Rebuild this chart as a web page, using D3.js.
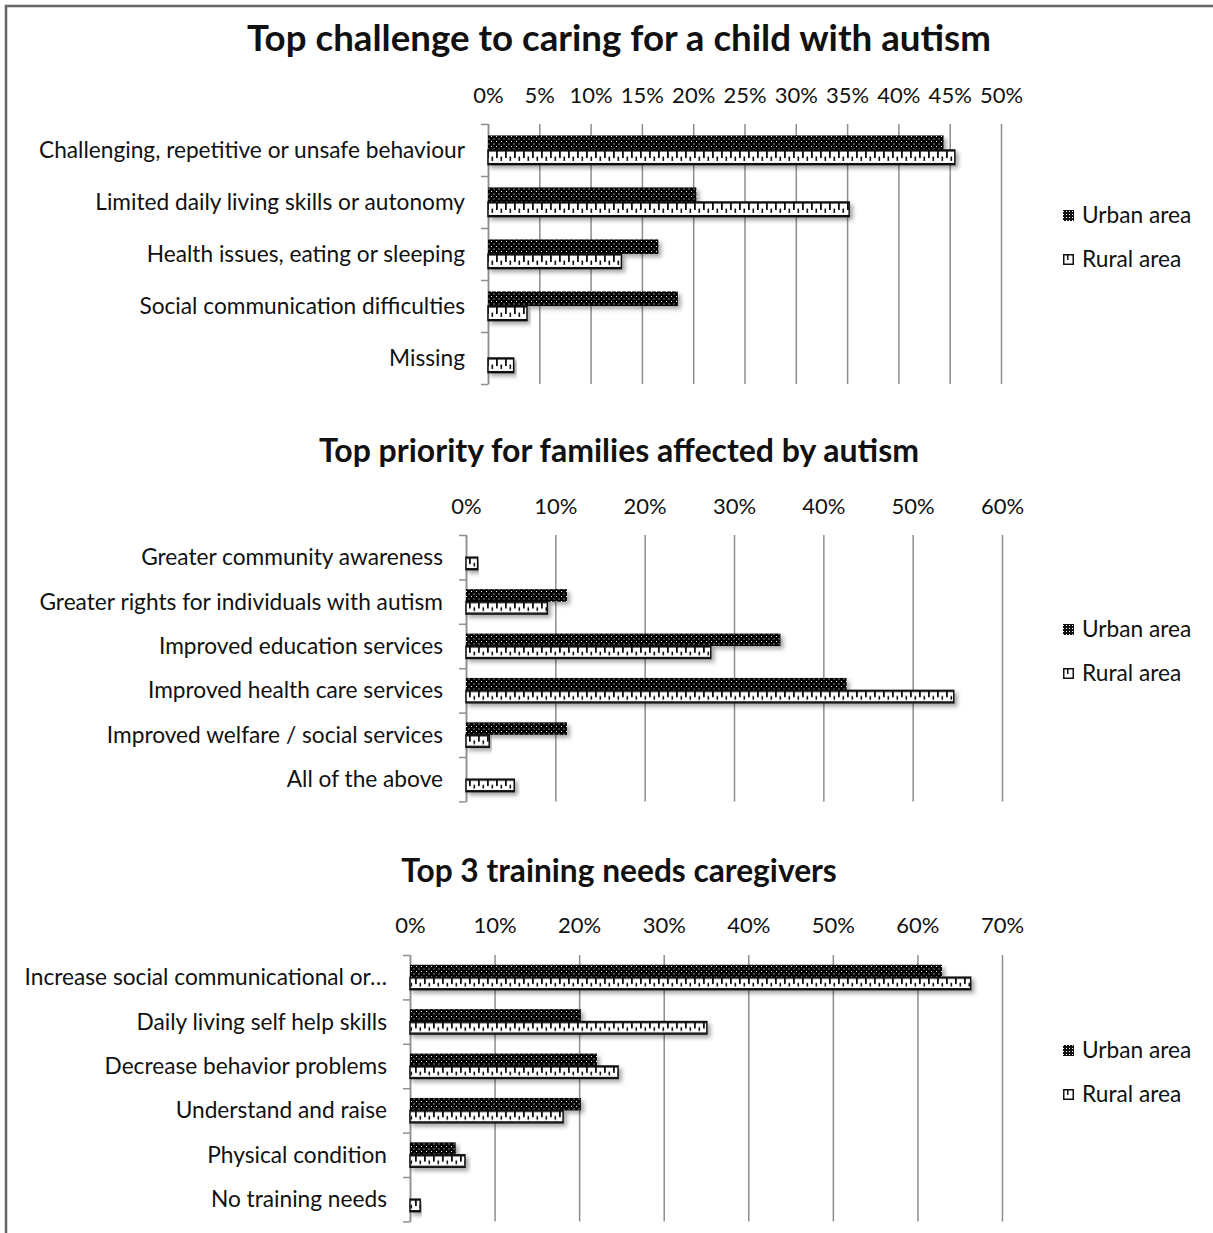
<!DOCTYPE html>
<html>
<head>
<meta charset="UTF-8">
<script src="https://d3js.org/d3.v7.min.js"></script>
<style>
  body { margin: 0; background: #fff; }
  text { font-family: Lato, "Open Sans", sans-serif; fill: #111; }
  .title { font-weight: bold; }
  .grid line { stroke: #8e8e8e; stroke-width: 1.5; }
  .grid text { font-size: 22px; }
  .yaxis line, .yaxis path { stroke: #8e8e8e; stroke-width: 1.5; }
</style>
</head>
<body>
<svg width="1213" height="1233"></svg>
<script>
// chart 1
var challengeCats = ["Challenging, repetitive or unsafe behaviour", "Limited daily living skills or autonomy",
  "Health issues, eating or sleeping", "Social communication difficulties", "Missing"];
var challengeUrban = [44.4, 20.3, 16.6, 18.5, 0];
var challengeRural = [45.5, 35.2, 13.0, 3.8, 2.5];
var challengeTicks = [0, 5, 10, 15, 20, 25, 30, 35, 40, 45, 50];

// chart 2
var priorityCats = ["Greater community awareness", "Greater rights for individuals with autism",
  "Improved education services", "Improved health care services", "Improved welfare / social services",
  "All of the above"];
var priorityUrban = [0, 11.3, 35.2, 42.6, 11.3, 0];
var priorityRural = [1.3, 9.1, 27.4, 54.6, 2.6, 5.4];
var priorityTicks = [0, 10, 20, 30, 40, 50, 60];

// chart 3
var trainingCats = ["Increase social communicational or…", "Daily living self help skills",
  "Decrease behavior problems", "Understand and raise", "Physical condition", "No training needs"];
var trainingUrban = [62.9, 20.2, 22.1, 20.2, 5.4, 0];
var trainingRural = [66.3, 35.1, 24.6, 18.1, 6.5, 1.2];
var trainingTicks = [0, 10, 20, 30, 40, 50, 60, 70];

var seriesNames = ["Urban area", "Rural area"];

var svg = d3.select("svg");

// frame
svg.append("path").attr("d", "M6,1233V6H1213").attr("fill", "none")
  .attr("stroke", "#666").attr("stroke-width", 2.5);

var defs = svg.append("defs");
var shadow = defs.append("filter").attr("id", "shadow")
  .attr("x", "-5%").attr("y", "-30%").attr("width", "115%").attr("height", "190%");
shadow.append("feDropShadow").attr("dx", 3).attr("dy", 3).attr("stdDeviation", 2)
  .attr("flood-color", "#000").attr("flood-opacity", 0.35);

// dark dotted pattern for urban
var dots = defs.append("pattern").attr("id", "urban").attr("patternUnits", "userSpaceOnUse")
  .attr("width", 5).attr("height", 5);
dots.append("rect").attr("width", 5).attr("height", 5).attr("fill", "#000");
dots.append("rect").attr("x", 1).attr("y", 1).attr("width", 1).attr("height", 1).attr("fill", "#fff");
dots.append("rect").attr("x", 3.5).attr("y", 3.5).attr("width", 1).attr("height", 1).attr("fill", "#fff");

// legend swatch pattern (small checker)
var chk = defs.append("pattern").attr("id", "urbanSmall").attr("patternUnits", "userSpaceOnUse")
  .attr("width", 3).attr("height", 3);
chk.append("rect").attr("width", 3).attr("height", 3).attr("fill", "#111");
chk.append("rect").attr("x", 1).attr("y", 1).attr("width", 1).attr("height", 1).attr("fill", "#fff");

function drawChart(id, cats, urban, rural, ticks, o) {
  var g = svg.append("g");
  var n = cats.length;
  var x = d3.scaleLinear().domain([0, d3.max(ticks)]).range([o.left, o.right]);
  var y = d3.scaleBand().domain(cats).range([o.top, o.top + o.step * n]);
  var inner = d3.scaleBand().domain(seriesNames).range([o.step * o.pad, o.step * (1 - o.pad)]);
  var bh = inner.bandwidth();
  var ry = o.top + inner("Rural area");

  // ruler pattern for rural, aligned to each bar
  var rp = defs.append("pattern").attr("id", "rural" + id).attr("patternUnits", "userSpaceOnUse")
    .attr("x", 0).attr("y", ry).attr("width", 9).attr("height", o.step);
  rp.append("rect").attr("width", 9).attr("height", bh).attr("fill", "#fff");
  rp.append("rect").attr("x", 0).attr("y", 0).attr("width", 9).attr("height", 1.6).attr("fill", "#111");
  rp.append("rect").attr("x", 0).attr("y", bh - 1.6).attr("width", 9).attr("height", 1.6).attr("fill", "#111");
  rp.append("rect").attr("x", 1).attr("y", 0).attr("width", 1.8).attr("height", bh * 0.55).attr("fill", "#111");
  rp.append("rect").attr("x", 5.5).attr("y", bh * 0.45).attr("width", 1.6).attr("height", bh * 0.3).attr("fill", "#111");

  g.append("text").attr("class", "title").attr("x", 619).attr("y", o.titleY)
    .attr("text-anchor", "middle").attr("font-size", o.titleSize).text(o.title);

  var grid = g.append("g").attr("class", "grid")
    .attr("transform", "translate(0," + o.top + ")")
    .call(d3.axisTop(x).tickValues(ticks).tickFormat(function(d) { return d + "%"; })
      .tickSize(-o.step * n).tickPadding(o.labelGap));
  grid.select(".domain").remove();
  grid.selectAll("text").attr("fill", "#111");

  var yi = d3.scaleLinear().domain([0, n]).range([o.top, o.top + o.step * n]);
  g.append("g").attr("class", "yaxis")
    .attr("transform", "translate(" + o.left + ",0)")
    .call(d3.axisLeft(yi).tickValues(d3.range(n + 1)).tickSize(7).tickSizeOuter(0).tickFormat(""));

  g.selectAll(".cat").data(cats).enter().append("text")
    .attr("x", o.left - 23).attr("y", function(d) { return y(d) + y.bandwidth() / 2; })
    .attr("dy", "0.35em").attr("text-anchor", "end").attr("font-size", 22.7)
    .text(function(d) { return d; });

  var rows = cats.map(function(c, i) { return { cat: c, u: urban[i], r: rural[i] }; });

  g.selectAll(".ubar").data(rows.filter(function(d) { return d.u > 0; })).enter().append("rect")
    .attr("x", x(0)).attr("y", function(d) { return y(d.cat) + inner("Urban area"); })
    .attr("width", function(d) { return x(d.u) - x(0); }).attr("height", bh)
    .attr("fill", "url(#urban)").attr("filter", "url(#shadow)");

  g.selectAll(".rbar").data(rows.filter(function(d) { return d.r > 0; })).enter().append("rect")
    .attr("x", x(0)).attr("y", function(d) { return y(d.cat) + inner("Rural area"); })
    .attr("width", function(d) { return x(d.r) - x(0); }).attr("height", bh)
    .attr("fill", "url(#rural" + id + ")").attr("stroke", "#111").attr("stroke-width", 1.5)
    .attr("filter", "url(#shadow)");

  // legend
  var lg = g.append("g");
  seriesNames.forEach(function(s, i) {
    var ly = o.legendY + i * 44;
    if (i === 0) {
      lg.append("rect").attr("x", o.legendX).attr("y", ly - 5).attr("width", 11).attr("height", 11)
        .attr("fill", "url(#urbanSmall)");
    } else {
      lg.append("rect").attr("x", o.legendX + 0.75).attr("y", ly - 4.25).attr("width", 9.5).attr("height", 9.5)
        .attr("fill", "#fff").attr("stroke", "#111").attr("stroke-width", 1.5);
      lg.append("rect").attr("x", o.legendX + 4).attr("y", ly - 4).attr("width", 1.5).attr("height", 5)
        .attr("fill", "#111");
    }
    lg.append("text").attr("x", o.legendX + 19).attr("y", ly).attr("dy", "0.35em")
      .attr("font-size", 22.7).text(s);
  });
}

drawChart(1, challengeCats, challengeUrban, challengeRural, challengeTicks, {
  title: "Top challenge to caring for a child with autism", titleY: 51, titleSize: 36.7,
  left: 488, right: 1001, top: 124, step: 52, pad: 0.22, labelGap: 21,
  legendX: 1063, legendY: 215
});

drawChart(2, priorityCats, priorityUrban, priorityRural, priorityTicks, {
  title: "Top priority for families affected by autism", titleY: 462, titleSize: 32,
  left: 466, right: 1002, top: 535, step: 44.4, pad: 0.22, labelGap: 21,
  legendX: 1063, legendY: 629
});

drawChart(3, trainingCats, trainingUrban, trainingRural, trainingTicks, {
  title: "Top 3 training needs caregivers", titleY: 882, titleSize: 31.7,
  left: 410, right: 1002, top: 955, step: 44.4, pad: 0.22, labelGap: 22,
  legendX: 1063, legendY: 1050
});
</script>
</body>
</html>
